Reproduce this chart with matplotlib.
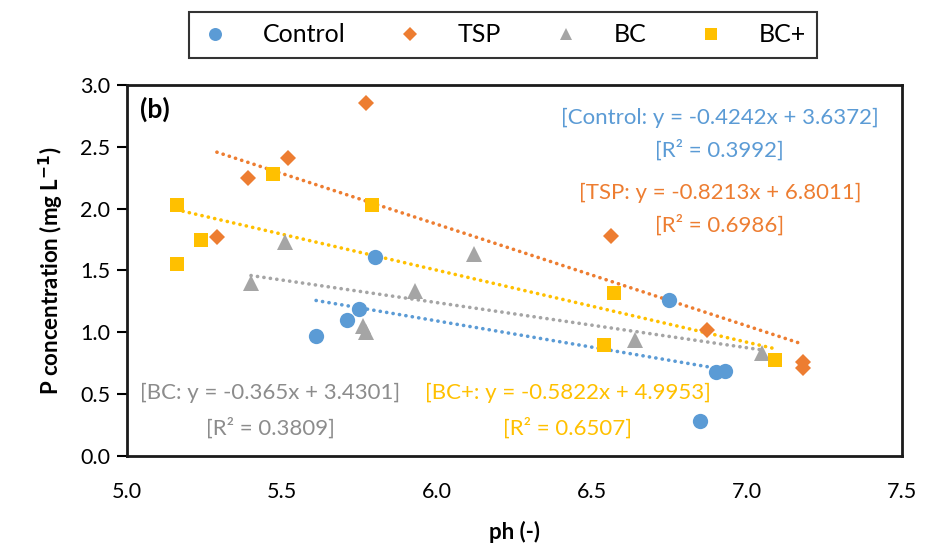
import matplotlib
matplotlib.use("Agg")
import matplotlib.pyplot as plt
import numpy as np

plt.rcParams['font.family'] = ['Lato', 'DejaVu Sans']

# pH (x) and P concentration (y)
control_x = [5.61, 5.71, 5.75, 5.80, 6.75, 6.90, 6.93, 6.85]
control_y = [0.97, 1.10, 1.19, 1.61, 1.26, 0.68, 0.69, 0.28]
tsp_x = [5.77, 5.52, 5.39, 5.29, 6.56, 6.87, 7.18, 7.18]
tsp_y = [2.85, 2.41, 2.25, 1.77, 1.78, 1.02, 0.76, 0.71]
bc_x = [5.40, 5.51, 5.76, 5.77, 5.93, 6.12, 6.64, 7.05]
bc_y = [1.40, 1.73, 1.05, 1.00, 1.33, 1.63, 0.94, 0.83]
bcp_x = [5.16, 5.24, 5.16, 5.47, 5.79, 6.57, 6.54, 7.09]
bcp_y = [2.03, 1.75, 1.55, 2.28, 2.03, 1.32, 0.90, 0.78]

# linear fits as printed on the chart (slope, intercept, r2)
fits = {
    'Control': (-0.4242, 3.6372, 0.3992),
    'TSP': (-0.8213, 6.8011, 0.6986),
    'BC': (-0.365, 3.4301, 0.3809),
    'BC+': (-0.5822, 4.9953, 0.6507),
}

series = [
    ('Control', control_x, control_y, 'o', '#5B9BD5', 11),
    ('TSP', tsp_x, tsp_y, 'D', '#ED7D31', 8.5),
    ('BC', bc_x, bc_y, '^', '#A5A5A5', 11),
    ('BC+', bcp_x, bcp_y, 's', '#FFC000', 10.5),
]
text_colors = {'Control': '#5B9BD5', 'TSP': '#ED7D31', 'BC': '#8C8C8C', 'BC+': '#FFC000'}

fig = plt.figure(figsize=(9.27, 5.53), dpi=100)
ax = fig.add_axes([0.137, 0.1754, 0.836, 0.671])

for name, xs, ys, mk, col, ms in series:
    ax.plot(xs, ys, linestyle='none', marker=mk, color=col, markersize=ms,
            markeredgewidth=0, label=name, zorder=3)
    m, b, r2 = fits[name]
    xl = np.array([min(xs), max(xs)])
    ax.plot(xl, m * xl + b, linestyle=(0, (0.05, 1.75)), dash_capstyle='round',
            color=col, linewidth=2.6, zorder=2)

ax.set_xlim(5.0, 7.5)
ax.set_ylim(0.0, 3.0)
ax.set_xticks(np.arange(5.0, 7.51, 0.5))
ax.set_yticks(np.arange(0.0, 3.01, 0.5))
ax.xaxis.set_major_formatter(matplotlib.ticker.FormatStrFormatter('%.1f'))
ax.yaxis.set_major_formatter(matplotlib.ticker.FormatStrFormatter('%.1f'))
ax.tick_params(axis='x', length=0, pad=19, labelsize=15.5)
ax.tick_params(axis='y', length=7, width=1.5, direction='out', pad=5, labelsize=15.5)
for s in ax.spines.values():
    s.set_linewidth(2)
    s.set_color('#1a1a1a')

ax.set_xlabel('ph (-)', fontsize=16, fontweight='bold', labelpad=13)
ax.set_ylabel('P concentration (mg L$^{\\mathbf{-1}}$)', fontsize=16, fontweight='bold', labelpad=10)

ax.text(0.017, 0.933, '(b)', transform=ax.transAxes, fontsize=19, fontweight='bold',
        va='center', ha='left')

# equation labels
labels = {
    'Control': (0.765, 0.911, 0.825),
    'TSP': (0.765, 0.709, 0.623),
    'BC': (0.1845, 0.170, 0.0755),
    'BC+': (0.569, 0.170, 0.0755),
}
for name, (tx, ty1, ty2) in labels.items():
    m, b, r2 = fits[name]
    ax.text(tx, ty1, f'[{name}: y = {m}x + {b}]', transform=ax.transAxes,
            ha='center', va='center', fontsize=16, color=text_colors[name])
    ax.text(tx, ty2, f'[R² = {r2}]', transform=ax.transAxes,
            ha='center', va='center', fontsize=16, color=text_colors[name])

leg = fig.legend(loc='center', bbox_to_anchor=(0.5426, 0.937), ncol=4, fontsize=18,
                 frameon=True, fancybox=False, edgecolor='black', handletextpad=1.3,
                 columnspacing=2.0, borderpad=0.45, handlelength=1.2, markerscale=0.85)
leg.get_frame().set_linewidth(1.5)

fig.savefig('out.png', dpi=100)
